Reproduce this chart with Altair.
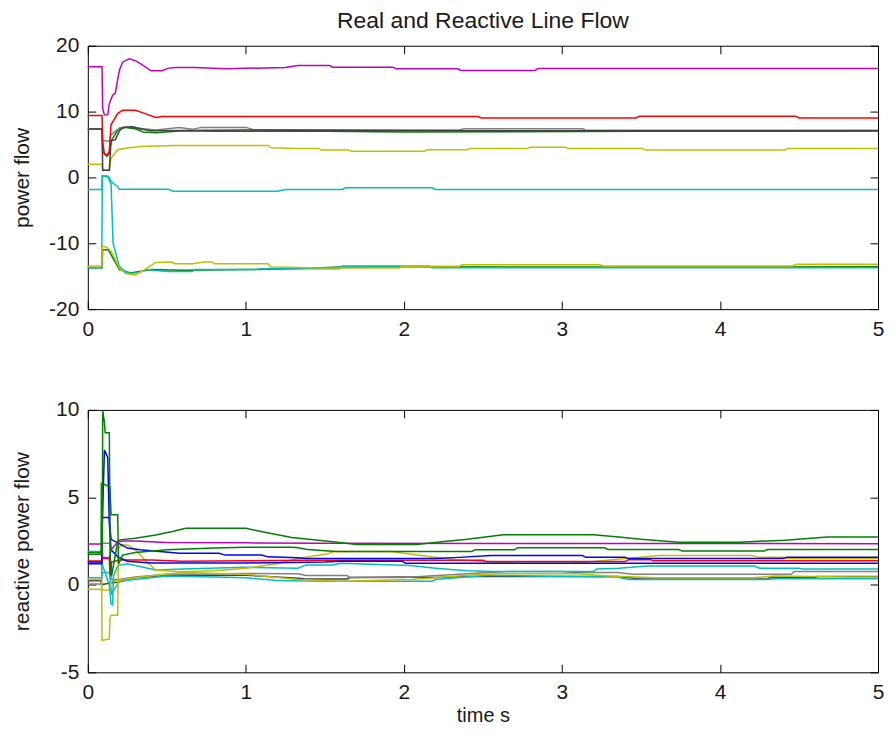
import altair as alt
import pandas as pd

# ---------------- texts & axis ticks ----------------
TITLE = "Real and Reactive Line Flow"
TIME_TICKS = [0, 1, 2, 3, 4, 5]
P_TICKS = [-20, -10, 0, 10, 20]
Q_TICKS = [-5, 0, 5, 10]

COLORS = {"b": "#0000ff", "g": "#008000", "r": "#ff0000", "c": "#00bfbf",
          "m": "#bf00bf", "y": "#bfbf00", "k": "#404040", "gr": "#808080"}

# ---------------- real power flow (t, value) ----------------
p_magenta = [(0, 16.8), (0.090, 16.8), (0.094, 10.5), (0.105, 9.5), (0.126, 9.5), (0.136, 11.2),
             (0.157, 12.5), (0.174, 12.8), (0.199, 16.2), (0.22, 17.5), (0.262, 18.0), (0.304, 17.7),
             (0.35, 17.0), (0.40, 16.2), (0.47, 16.2), (0.51, 16.6), (0.56, 16.7), (0.68, 16.7),
             (0.87, 16.5), (1.25, 16.7), (1.33, 17.0), (1.53, 17.0), (1.55, 16.75), (1.93, 16.75),
             (1.95, 16.5), (2.34, 16.5), (2.36, 16.25), (2.83, 16.25), (2.85, 16.55), (5, 16.55)]
p_red = [(0, 9.4), (0.090, 9.4), (0.094, 5.5), (0.105, 3.5), (0.126, 3.5), (0.136, 4.0),
         (0.147, 8.0), (0.189, 9.7), (0.22, 10.2), (0.30, 10.2), (0.35, 9.8), (0.43, 9.1),
         (0.47, 9.25), (1.2, 9.25), (2.47, 9.24), (2.49, 9.04), (3.47, 9.04), (3.49, 9.3),
         (4.48, 9.3), (4.50, 9.04), (5, 9.04)]
p_darkgray = [(0, 7.35), (0.09, 7.35), (0.094, 1.1), (0.136, 1.1), (0.147, 5.6), (0.174, 5.7),
              (0.199, 7.0), (0.22, 7.6), (0.28, 7.7), (0.33, 7.4), (0.40, 7.1), (1.0, 7.2),
              (2.0, 7.1), (5, 7.1)]
p_green = [(0, 7.3), (0.09, 7.3), (0.094, 4.0), (0.12, 3.2), (0.136, 3.6), (0.147, 5.5),
           (0.19, 7.2), (0.24, 7.6), (0.30, 7.4), (0.35, 6.9), (0.43, 6.8), (0.6, 7.1),
           (0.8, 7.0), (1.5, 7.0), (2.0, 6.9), (3.5, 7.0), (5, 7.05)]
p_gray = [(0, 7.3), (0.09, 7.3), (0.094, 5.6), (0.136, 5.5), (0.147, 6.5), (0.20, 7.5),
          (0.27, 7.7), (0.35, 7.4), (0.43, 7.2), (0.58, 7.6), (0.66, 7.3), (0.72, 7.6),
          (1.0, 7.6), (1.05, 7.25), (2.35, 7.2), (2.38, 7.4), (3.13, 7.4), (3.15, 7.2), (5, 7.15)]
p_yellow = [(0, 2.0), (0.09, 2.0), (0.094, 1.1), (0.136, 1.1), (0.147, 2.9), (0.189, 4.2),
            (0.26, 4.5), (0.33, 4.7), (0.54, 4.85), (1.14, 4.85), (1.16, 4.5), (1.33, 4.4),
            (1.46, 4.4), (1.48, 4.15), (1.65, 4.15), (1.67, 3.96), (2.13, 3.96), (2.15, 4.2),
            (2.4, 4.2), (2.42, 4.4), (2.78, 4.4), (2.80, 4.6), (3.02, 4.6), (3.04, 4.4),
            (3.51, 4.4), (3.53, 4.15), (4.41, 4.15), (4.43, 4.4), (5, 4.4)]
p_cyan = [(0, -1.83), (0.088, -1.83), (0.092, 0.3), (0.136, 0.0), (0.147, -0.6), (0.189, -1.4),
          (0.199, -1.8), (0.51, -1.8), (0.54, -2.1), (1.2, -2.1), (1.25, -1.83), (1.61, -1.83),
          (1.63, -1.57), (2.18, -1.57), (2.20, -1.83), (5, -1.83)]
p_green_low = [(0, -13.7), (0.09, -13.7), (0.094, -11.0), (0.13, -11.0), (0.2, -14.0),
               (0.27, -14.5), (0.4, -14.0), (0.6, -14.1), (1.0, -14.0), (1.3, -13.85),
               (1.6, -13.6), (2.0, -13.55), (3.0, -13.6), (4.0, -13.6), (5, -13.55)]
p_cyan_low = [(0, -13.7), (0.088, -13.7), (0.092, 0.2), (0.126, 0.2), (0.147, -1.0), (0.16, -10.0),
              (0.199, -13.5), (0.241, -14.4), (0.27, -14.6), (0.33, -14.4), (0.37, -14.0),
              (0.5, -14.3), (0.66, -14.3), (0.68, -14.0), (1.06, -14.0), (1.1, -13.85),
              (1.59, -13.85), (1.61, -13.45), (2.16, -13.45), (2.18, -13.7), (5, -13.7)]
p_yellow_low = [(0, -13.45), (0.088, -13.45), (0.092, -10.4), (0.126, -10.7), (0.147, -11.2),
                (0.2, -13.8), (0.24, -14.6), (0.30, -14.8), (0.36, -14.0), (0.43, -12.9),
                (0.53, -12.85), (0.55, -13.1), (0.66, -13.1), (0.74, -12.85), (0.79, -12.85),
                (0.8, -13.1), (1.14, -13.1), (1.16, -13.6), (1.5, -13.75), (1.97, -13.75),
                (1.99, -13.5), (2.35, -13.5), (2.37, -13.25), (3.24, -13.25), (3.26, -13.45),
                (4.46, -13.45), (4.48, -13.2), (5, -13.2)]

# ---------------- reactive power flow (t, value) ----------------
q_magenta = [(0, 2.34), (0.09, 2.34), (0.094, 1.55), (0.136, 1.55), (0.147, 2.0), (0.19, 2.45),
             (0.22, 2.5), (0.3, 2.5), (0.5, 2.42), (1.0, 2.4), (1.46, 2.38), (5, 2.35)]
q_green_a = [(0, 1.85), (0.092, 1.85), (0.094, 9.95), (0.105, 9.3), (0.11, 8.7), (0.136, 8.7),
             (0.142, 1.5), (0.15, 0.5), (0.19, 2.5), (0.2, 2.57), (0.30, 2.66), (0.43, 2.85),
             (0.535, 3.05), (0.62, 3.24), (1.0, 3.24), (1.08, 3.08), (1.29, 2.7), (1.46, 2.55),
             (1.58, 2.44), (1.7, 2.3), (2.08, 2.3), (2.21, 2.44), (2.4, 2.6), (2.63, 2.86),
             (3.2, 2.86), (3.36, 2.73), (3.5, 2.6), (3.74, 2.44), (4.12, 2.44), (4.41, 2.55),
             (4.68, 2.73), (5, 2.73)]
q_green_b = [(0, 1.75), (0.084, 1.75), (0.086, 5.8), (0.14, 5.6), (0.147, 4.0), (0.189, 4.0),
             (0.194, 1.2), (0.22, 1.7), (0.3, 1.85), (0.5, 2.0), (0.8, 2.1), (1.0, 2.15),
             (1.3, 2.15), (1.33, 2.12), (1.39, 2.02), (1.57, 1.9), (2.43, 1.9), (2.45, 2.0),
             (2.7, 2.0), (2.72, 2.12), (3.27, 2.12), (3.29, 2.02), (3.74, 2.02), (3.76, 1.93),
             (4.28, 1.93), (4.3, 2.02), (5, 2.02)]
q_blue_a = [(0, 1.3), (0.088, 1.3), (0.09, 3.85), (0.136, 3.85), (0.147, 2.6), (0.189, 2.4),
            (0.25, 2.1), (0.33, 2.0), (0.58, 1.8), (0.83, 1.8), (0.87, 1.7), (1.1, 1.7),
            (1.14, 1.6), (1.33, 1.55), (1.38, 1.5), (2.2, 1.5), (2.35, 1.57), (2.55, 1.68),
            (3.13, 1.68), (3.15, 1.57), (3.4, 1.57), (3.42, 1.5), (4.4, 1.5), (4.42, 1.57), (5, 1.57)]
q_blue_b = [(0, 1.2), (0.088, 1.2), (0.09, 3.0), (0.105, 7.7), (0.126, 7.3), (0.136, 3.5),
            (0.147, 2.0), (0.19, 1.6), (0.25, 1.35), (0.4, 1.25), (1.0, 1.25), (1.5, 1.3),
            (1.6, 1.35), (1.99, 1.35), (2.01, 1.24), (5, 1.24)]
q_red = [(0, 1.36), (0.088, 1.36), (0.09, 1.5), (0.136, 1.5), (0.14, 0.6), (0.147, 0.6),
         (0.15, 1.3), (0.2, 1.42), (0.4, 1.42), (0.6, 1.35), (1.0, 1.38), (1.33, 1.4),
         (2.5, 1.4), (2.52, 1.33), (3.4, 1.33), (3.42, 1.43), (3.56, 1.43), (3.58, 1.37), (5, 1.37)]
q_yellow_a = [(0, -0.25), (0.088, -0.25), (0.09, -3.18), (0.136, -3.1), (0.14, -1.93),
              (0.147, -1.74), (0.189, -1.74), (0.194, 2.1), (0.22, 2.3), (0.26, 2.25), (0.3, 2.0),
              (0.37, 1.35), (0.43, 0.85), (0.58, 0.75), (0.8, 0.8), (1.0, 0.95), (1.2, 1.2),
              (1.33, 1.5), (1.45, 1.68), (1.52, 1.78), (1.56, 1.9), (1.92, 1.9), (2.0, 1.8),
              (2.17, 1.6), (2.32, 1.45), (2.5, 1.33), (2.72, 1.24), (3.05, 1.24), (3.2, 1.33),
              (3.4, 1.5), (3.62, 1.68), (4.2, 1.68), (4.25, 1.57), (4.4, 1.57), (4.42, 1.5), (5, 1.5)]
q_yellow_b = [(0, 0.3), (0.088, 0.3), (0.09, -0.3), (0.136, -0.3), (0.15, 0.2), (0.2, 0.25),
              (0.3, 0.4), (0.43, 0.55), (0.6, 0.7), (1.0, 0.6), (1.33, 0.3), (1.6, 0.2),
              (2.05, 0.3), (2.2, 0.4), (2.4, 0.55), (2.6, 0.63), (3.1, 0.63), (3.3, 0.5),
              (3.6, 0.4), (4.2, 0.4), (4.35, 0.5), (4.8, 0.45), (5, 0.45)]
q_cyan_a = [(0, 1.9), (0.088, 1.9), (0.09, 1.2), (0.136, 0.0), (0.147, -1.1), (0.157, -1.15),
            (0.162, 0.5), (0.19, 1.1), (0.25, 1.2), (0.35, 1.0), (0.43, 0.85), (0.6, 0.9),
            (1.0, 1.0), (1.33, 0.95), (1.38, 1.14), (1.55, 1.14), (1.6, 1.24), (2.04, 1.1),
            (2.2, 0.95), (2.4, 0.8), (2.55, 0.76), (3.2, 0.76), (3.22, 0.9), (3.36, 0.95),
            (3.54, 1.07), (4.22, 1.07), (4.25, 0.95), (4.5, 0.95), (4.52, 0.9), (5, 0.9)]
q_cyan_b = [(0, 0.4), (0.088, 0.4), (0.09, 0.7), (0.136, 0.7), (0.15, -0.5), (0.2, 0.2),
            (0.3, 0.3), (0.5, 0.5), (0.8, 0.45), (1.0, 0.4), (1.2, 0.25), (1.5, 0.2),
            (2.18, 0.2), (2.2, 0.3), (2.35, 0.42), (2.54, 0.55), (2.8, 0.5), (3.35, 0.45),
            (3.42, 0.3), (4.3, 0.3), (4.35, 0.35), (5, 0.35)]
q_gray = [(0, 0.05), (0.088, 0.05), (0.09, 2.38), (0.14, 2.38), (0.147, 0.3), (0.2, 0.3),
          (0.3, 0.45), (0.5, 0.6), (1.0, 0.65), (1.33, 0.63), (1.38, 0.53), (1.64, 0.53),
          (1.66, 0.42), (2.0, 0.42), (2.35, 0.6), (2.65, 0.76), (3.0, 0.76), (3.08, 0.7),
          (3.35, 0.7), (3.45, 0.6), (4.45, 0.6), (4.47, 0.76), (5, 0.76)]
q_darkgray = [(0, 0.23), (0.084, 0.23), (0.086, 0.0), (0.14, 0.1), (0.19, 0.15), (0.3, 0.4),
              (0.5, 0.55), (1.0, 0.55), (1.33, 0.38), (1.38, 0.34), (1.64, 0.34), (1.66, 0.42),
              (2.0, 0.45), (2.2, 0.42), (2.4, 0.47), (3.35, 0.47), (3.5, 0.34), (4.3, 0.34),
              (4.32, 0.42), (4.6, 0.42), (4.62, 0.47), (5, 0.47)]

P_SERIES = [("p_green_low", "g", p_green_low), ("p_cyan_low", "c", p_cyan_low),
            ("p_yellow_low", "y", p_yellow_low), ("p_cyan", "c", p_cyan),
            ("p_yellow", "y", p_yellow), ("p_green", "g", p_green), ("p_gray", "gr", p_gray),
            ("p_darkgray", "k", p_darkgray), ("p_red", "r", p_red), ("p_magenta", "m", p_magenta)]
Q_SERIES = [("q_darkgray", "k", q_darkgray), ("q_gray", "gr", q_gray), ("q_cyan_b", "c", q_cyan_b),
            ("q_yellow_b", "y", q_yellow_b), ("q_cyan_a", "c", q_cyan_a), ("q_yellow_a", "y", q_yellow_a),
            ("q_red", "r", q_red), ("q_blue_b", "b", q_blue_b), ("q_blue_a", "b", q_blue_a),
            ("q_green_b", "g", q_green_b), ("q_magenta", "m", q_magenta), ("q_green_a", "g", q_green_a)]

W = 792
FONT = "Liberation Sans"
TXT = "#1a1a1a"
TICK = dict(ticks=True, tickSize=8, tickColor="black", tickWidth=1, offset=-8,
            domain=False, grid=False)


def to_frame(series_list):
    rows = []
    for k, (name, col, pts) in enumerate(series_list):
        for i, (t, v) in enumerate(pts):
            rows.append({"series": name, "color": COLORS[col], "i": i, "t": t, "v": v})
    return pd.DataFrame(rows)


def panel(series_list, yticks, ydom, ytitle, h, xtitle=None, title=None):
    df = to_frame(series_list)
    xs = alt.Scale(domain=[0, 5], nice=False, zero=False)
    ys = alt.Scale(domain=ydom, nice=False, zero=False)
    xaxis_kw = dict(values=TIME_TICKS, labelPadding=9, labelFlush=False, labelFontSize=21,
                    labelFont=FONT, labelColor=TXT, labelExpr="'' + datum.value",
                    labelBaseline="top", orient="bottom", title=xtitle, **TICK)
    if xtitle:
        xaxis_kw.update(titleFontSize=20, titleFont=FONT, titleColor=TXT,
                        titleFontWeight="normal", titlePadding=3)
    yaxis = alt.Axis(values=yticks, labelPadding=9, labelFontSize=21, labelFont=FONT,
                     labelColor=TXT, labelBaseline="middle", labelExpr="'' + datum.value",
                     labelFlush=False, orient="left",
                     title=ytitle, titleFontSize=21, titleFont=FONT, titleColor=TXT,
                     titleFontWeight="normal", titleX=-73, titleY=h / 2, titleAngle=-90,
                     titleBaseline="middle", titleAlign="center", **TICK)
    lines = alt.Chart(df).mark_line(strokeWidth=1.5).encode(
        x=alt.X("t:Q", scale=xs, axis=alt.Axis(**xaxis_kw)),
        y=alt.Y("v:Q", scale=ys, axis=yaxis),
        color=alt.Color("color:N", scale=None),
        detail="series:N",
        order="i:Q",
    )
    # invisible copy carrying the inner ticks of the top and right edges
    mirror = alt.Chart(df).mark_line(opacity=0).encode(
        x=alt.X("t:Q", scale=xs, axis=alt.Axis(values=TIME_TICKS, labels=False, orient="top",
                                                title=None, **TICK)),
        y=alt.Y("v:Q", scale=ys, axis=alt.Axis(values=yticks, labels=False, orient="right",
                                                title=None, **TICK)),
        detail="series:N",
        order="i:Q",
    )
    layers = [lines, mirror]
    if title:
        tdf = pd.DataFrame({"label": [title]})
        layers.append(alt.Chart(tdf).mark_text(fontSize=23, font=FONT, color=TXT,
                                               baseline="middle", align="center").encode(
            x=alt.value(W / 2), y=alt.value(-25), text="label:N"))
    return alt.layer(*layers).resolve_scale(x="independent", y="independent").properties(
        width=W, height=h)


top = panel(P_SERIES, P_TICKS, [-20, 20], "power flow", 264, title=TITLE)
bottom = panel(Q_SERIES, Q_TICKS, [-5, 10], "reactive power flow", 263, xtitle="time s")

chart = alt.vconcat(top, bottom, spacing=58).properties(
    padding={"left": 3, "top": 0, "right": 0, "bottom": 0},
    background="white",
).configure_view(stroke="black", strokeWidth=1)

chart.save("out.html", embed_options={"renderer": "svg", "actions": False})
